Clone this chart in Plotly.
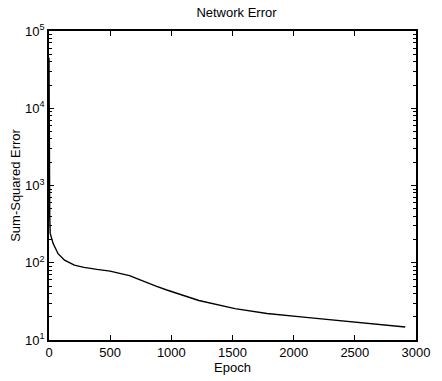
import plotly.graph_objects as go

epochs = [0, 1, 3, 6, 10, 34, 74, 127, 207, 286, 392, 499, 578, 658, 724, 800, 880,
          963, 1225, 1520, 1782, 2101, 2371, 2634, 2912]
errors = [45000, 9000, 1500, 400, 240, 177, 131, 108, 93, 87, 82, 78, 73, 68, 62, 55, 49.5,
          44.4, 32.5, 25.5, 22, 19.6, 17.7, 16.1, 14.7]

x_ticks = [0, 500, 1000, 1500, 2000, 2500, 3000]
y_ticks = [10, 100, 1000, 10000, 100000]
y_tick_text = ["10<sup>1</sup>", "10<sup>2</sup>", "10<sup>3</sup>", "10<sup>4</sup>", "10<sup>5</sup>"]

font = "Liberation Sans, Arial, sans-serif"

fig = go.Figure()
fig.add_trace(go.Scatter(x=epochs, y=errors, mode="lines",
                         line=dict(color="black", width=1.4),
                         showlegend=False, hoverinfo="skip"))

fig.update_layout(
    width=442, height=381,
    margin=dict(l=49, r=16, t=31, b=39),
    paper_bgcolor="white", plot_bgcolor="white",
    font=dict(family=font, size=13, color="black"),
    title=dict(text="Network Error", x=0.535, xanchor="center", y=0.978, yanchor="top",
               font=dict(family=font, size=13, color="black")),
    showlegend=False,
)
fig.update_xaxes(
    range=[0, 3000], tickvals=x_ticks, ticks="inside", ticklen=5, tickwidth=1,
    tickcolor="black", showline=True, linecolor="black", linewidth=1.5,
    mirror="ticks", showgrid=False, zeroline=False,
    title=dict(text="Epoch", standoff=0, font=dict(family=font, size=13)),
    tickfont=dict(family=font, size=13),
)
fig.update_yaxes(
    type="log", range=[1, 5], tickvals=y_ticks, ticktext=y_tick_text,
    ticks="inside", ticklen=5, tickwidth=1, tickcolor="black",
    showline=True, linecolor="black", linewidth=1.5, mirror="ticks",
    showgrid=False, zeroline=False,
    minor=dict(ticks="inside", ticklen=3, tickcolor="black", showgrid=False, dtick="D1"),
    title=dict(text="Sum-Squared Error", standoff=2, font=dict(family=font, size=13)),
    tickfont=dict(family=font, size=13),
)

fig.write_html("out.html")
